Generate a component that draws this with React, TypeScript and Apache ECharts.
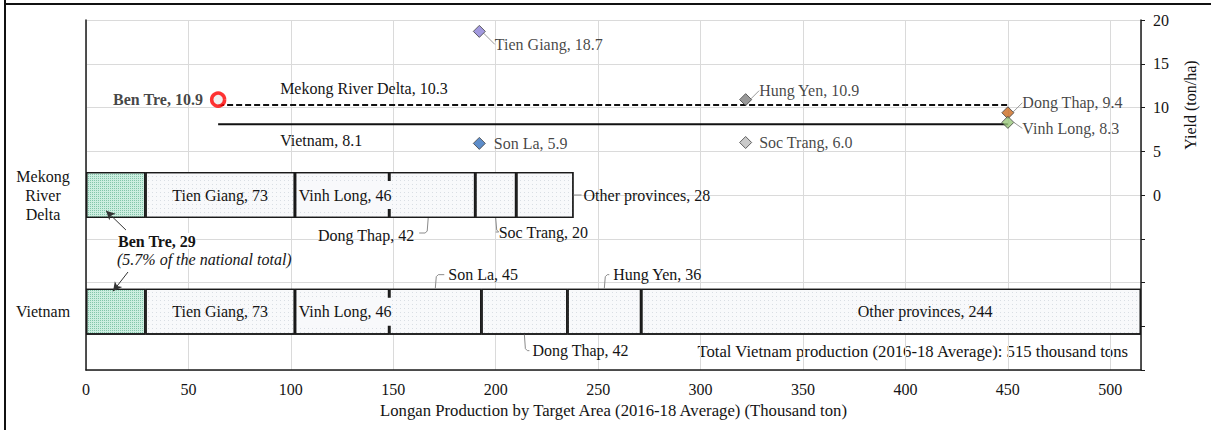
import React, { useEffect, useRef } from "react";
import * as echarts from "echarts";

// ---------- data ----------
const barCategories = ["Vietnam", "Mekong River Delta", ""];
const barCategoryLabels = ["Vietnam", "Mekong\nRiver\nDelta", ""];

const mekongProvinces = ["Ben Tre", "Tien Giang", "Vinh Long", "Dong Thap", "Soc Trang", "Other provinces"];
const mekongProduction = [29, 73, 46, 42, 20, 28];

const vietnamProvinces = ["Ben Tre", "Tien Giang", "Vinh Long", "Son La", "Dong Thap", "Hung Yen", "Other provinces"];
const vietnamProduction = [29, 73, 46, 45, 42, 36, 244];
const vietnamTotal = 515;

const yieldProvinces = ["Tien Giang", "Hung Yen", "Dong Thap", "Vinh Long", "Son La", "Soc Trang"];
const yieldPlotX = [192, 322, 450, 450, 192, 322];
const yieldValues = [18.7, 10.9, 9.4, 8.3, 5.9, 6.0];

const benTreName = "Ben Tre";
const benTreYield = 10.9;
const benTreX = 64.5;

const mekongAvgLabel = "Mekong River Delta";
const mekongAvgYield = 10.3;
const vietnamAvgLabel = "Vietnam";
const vietnamAvgYield = 8.1;
const avgLineX = [64.5, 450];

const xTickMax = 515;
const xTickStep = 50;
const yieldMin = -20;
const yieldMax = 20;
const yieldStep = 5;

// annotation arrow end points (x in thousand ton, y in yield units)
const arrowMekong = [[19.5, -4.0], [9.8, -1.8]];
const arrowVietnam = [[20.5, -8.8], [13.2, -11.0]];

// ---------- styles ----------
const FONT = "'Liberation Serif', 'Times New Roman', serif";
const FS = 16;
const FS_WIDE = 16.7;
const TXT = "#141414";
const BAR_W = 46;
const LEADER = "#8a8a8a";

const yieldColors: Record<string, string> = {
  "Tien Giang": "#8b7fd6",
  "Hung Yen": "#808080",
  "Dong Thap": "#cc6a1f",
  "Vinh Long": "#98c77a",
  "Son La": "#3570bd",
  "Soc Trang": "#bdbdbd",
};

const yieldLabelShift: Record<string, { dx: number; dy: number; line: boolean }> = {
  "Tien Giang": { dx: 9, dy: 13, line: true },
  "Hung Yen": { dx: 7, dy: -9, line: true },
  "Dong Thap": { dx: 8, dy: -10, line: true },
  "Vinh Long": { dx: 8, dy: 6, line: true },
  "Son La": { dx: 8, dy: 0, line: false },
  "Soc Trang": { dx: 7, dy: 0, line: false },
};

type Placement = { mode: string; dx?: number; dy?: number; mask?: boolean };
const barLabelPlacement: Record<string, Placement> = {
  "Vietnam|Tien Giang": { mode: "inside" },
  "Vietnam|Vinh Long": { mode: "inside", dx: 3, mask: true },
  "Vietnam|Son La": { mode: "above", dx: 13, dy: -14 },
  "Vietnam|Dong Thap": { mode: "below", dx: 8, dy: 16 },
  "Vietnam|Hung Yen": { mode: "above", dx: 9, dy: -14 },
  "Vietnam|Other provinces": { mode: "inside", dx: 34 },
  "Mekong River Delta|Tien Giang": { mode: "inside" },
  "Mekong River Delta|Vinh Long": { mode: "inside", dx: 3, mask: true },
  "Mekong River Delta|Dong Thap": { mode: "belowLeft", dx: -18, dy: 17 },
  "Mekong River Delta|Soc Trang": { mode: "below", dx: 3, dy: 14 },
  "Mekong River Delta|Other provinces": { mode: "right", dx: 10 },
};

const lightFill = "#f8f9fb";
const greenFill = "#cdeee1";

function provinceOf(dataIndex: number, seg: number): string | null {
  const cat = barCategories[dataIndex];
  if (cat === "Vietnam") return vietnamProvinces[seg] ?? null;
  if (cat === "Mekong River Delta") return mekongProvinces[seg] ?? null;
  return null;
}

function valuesOf(cat: string): number[] {
  return cat === "Vietnam" ? vietnamProduction : cat === "Mekong River Delta" ? mekongProduction : [];
}

export default function App() {
  const ref = useRef<HTMLDivElement>(null);

  useEffect(() => {
    if (!ref.current) return;
    const chart = echarts.init(ref.current, undefined, { renderer: "svg" });

    const nSeg = Math.max(mekongProduction.length, vietnamProduction.length);
    const barSeries: any[] = [];
    for (let s = 0; s < nSeg; s++) {
      const isBenTre = s === 0;
      const data = barCategories.map((cat, di) => {
        const prov = provinceOf(di, s);
        if (!prov) return "-";
        const value = valuesOf(cat)[s];
        const pl = barLabelPlacement[`${cat}|${prov}`];
        return {
          name: prov,
          value,
          label: pl
            ? {
                show: true,
                formatter: `${prov}, ${value}`,
                backgroundColor: pl.mask ? lightFill : "transparent",
                padding: pl.mask ? [6, 0] : 0,
              }
            : { show: false },
        };
      });
      barSeries.push({
        type: "bar",
        name: "seg" + s,
        stack: "production",
        xAxisIndex: 0,
        yAxisIndex: 0,
        barWidth: BAR_W,
        z: 2,
        data,
        itemStyle: {
          color: isBenTre ? greenFill : lightFill,
          borderColor: "#1a1a1a",
          borderWidth: 1.3,
          decal: isBenTre
            ? { symbol: "rect", symbolSize: 1, color: "rgba(70,165,125,0.55)", dashArrayX: [1, 1], dashArrayY: [1, 1] }
            : { symbol: "rect", symbolSize: 1, color: "rgba(160,170,185,0.35)", dashArrayX: [1, 3], dashArrayY: [1, 3] },
        },
        label: {
          show: false,
          position: "inside",
          fontFamily: FONT,
          fontSize: FS,
          color: TXT,
        },
        labelLayout: (p: any) => {
          const prov = provinceOf(p.dataIndex, s);
          if (!prov) return {};
          const pl = barLabelPlacement[`${barCategories[p.dataIndex]}|${prov}`];
          if (!pl) return {};
          const r = p.rect;
          const cx = r.x + r.width / 2;
          const cy = r.y + r.height / 2;
          const dx = pl.dx || 0;
          const dy = pl.dy || 0;
          const bottom = r.y + r.height;
          switch (pl.mode) {
            case "above":
              return { x: cx + dx, y: r.y + dy, align: "left", verticalAlign: "middle" };
            case "below":
              return { x: cx + dx, y: bottom + dy, align: "left", verticalAlign: "middle" };
            case "belowLeft":
              return { x: cx + dx, y: bottom + dy, align: "right", verticalAlign: "middle" };
            case "right":
              return { x: r.x + r.width + dx, y: cy, align: "left", verticalAlign: "middle" };
            default:
              return { dx };
          }
        },
      });
    }

    const scatterData = yieldProvinces.map((p, i) => ({
      name: p,
      value: [yieldPlotX[i], yieldValues[i]],
      itemStyle: { color: yieldColors[p] },
      labelLine: { show: yieldLabelShift[p].line },
    }));

    const baseGraphics: any[] = [
      {
        type: "line",
        silent: true,
        shape: { x1: 5, y1: 0, x2: 5, y2: 430 },
        style: { stroke: "#111", lineWidth: 2 },
      },
      {
        type: "line",
        silent: true,
        shape: { x1: 5, y1: 4, x2: 1211, y2: 4 },
        style: { stroke: "#111", lineWidth: 2 },
      },
      {
        type: "text",
        silent: true,
        z: 10,
        x: 118,
        y: 241,
        style: {
          text: `${mekongProvinces[0]}, ${mekongProduction[0]}`,
          font: `bold ${FS}px ${FONT}`,
          fill: TXT,
          align: "left",
          verticalAlign: "middle",
          backgroundColor: "#fff",
        },
      },
      {
        type: "text",
        silent: true,
        z: 10,
        x: 117,
        y: 259,
        style: {
          text: "(5.7% of the national total)",
          font: `italic ${FS}px ${FONT}`,
          fill: TXT,
          align: "left",
          verticalAlign: "middle",
        },
      },
      {
        type: "text",
        silent: true,
        x: 1128,
        y: 351,
        style: {
          text: `Total Vietnam production (2016-18 Average): ${vietnamTotal} thousand tons`,
          font: `${FS_WIDE}px ${FONT}`,
          fill: TXT,
          align: "right",
          verticalAlign: "middle",
        },
      },
      {
        type: "text",
        silent: true,
        x: 1190,
        y: 105,
        rotation: Math.PI / 2,
        style: {
          text: "Yield (ton/ha)",
          font: `${FS}px ${FONT}`,
          fill: TXT,
          align: "center",
          verticalAlign: "middle",
        },
      },
    ];

    const option: any = {
      animation: false,
      textStyle: { fontFamily: FONT },
      grid: { left: 86, right: 70, top: 20, bottom: 60, containLabel: false },
      xAxis: [
        {
          type: "value",
          min: 0,
          max: xTickMax,
          interval: xTickStep,
          axisLine: { show: true, onZero: false, lineStyle: { color: "#1a1a1a", width: 1.5 } },
          axisTick: { show: false },
          axisLabel: {
            margin: 11,
            fontFamily: FONT,
            fontSize: FS,
            color: TXT,
            formatter: (v: number) => (v % xTickStep === 0 ? String(v) : ""),
          },
          splitLine: { show: true, lineStyle: { color: "#dadada", width: 1 } },
          name: "Longan Production by Target Area (2016-18 Average) (Thousand ton)",
          nameLocation: "middle",
          nameGap: 32,
          nameTextStyle: { fontFamily: FONT, fontSize: FS_WIDE, color: TXT },
        },
      ],
      yAxis: [
        {
          type: "category",
          data: barCategories,
          position: "left",
          axisLine: { show: true, onZero: false, lineStyle: { color: "#1a1a1a", width: 1.5 } },
          axisTick: { show: false },
          splitLine: { show: false },
          axisLabel: {
            align: "center",
            margin: 43,
            fontFamily: FONT,
            fontSize: FS,
            lineHeight: 19,
            color: TXT,
            formatter: (v: string) => barCategoryLabels[barCategories.indexOf(v)] ?? v,
          },
        },
        {
          type: "value",
          position: "right",
          min: yieldMin,
          max: yieldMax,
          interval: yieldStep,
          axisLine: { show: true, onZero: false, lineStyle: { color: "#1a1a1a", width: 1.5 } },
          axisTick: { show: true, inside: false, length: 4, lineStyle: { color: "#1a1a1a" } },
          axisLabel: {
            margin: 12,
            fontFamily: FONT,
            fontSize: FS,
            color: TXT,
            formatter: (v: number) => (v >= 0 ? String(v) : ""),
          },
          splitLine: { show: true, lineStyle: { color: "#dadada", width: 1 } },
        },
      ],
      series: [
        ...barSeries,
        {
          type: "line",
          name: mekongAvgLabel,
          xAxisIndex: 0,
          yAxisIndex: 1,
          z: 4,
          symbol: "circle",
          symbolSize: 0,
          lineStyle: { color: "#111", width: 2, type: [6, 3] },
          itemStyle: { color: "#111" },
          data: [
            {
              value: [avgLineX[0], mekongAvgYield],
              label: {
                show: true,
                position: "right",
                distance: 0,
                offset: [62, -16],
                formatter: `${mekongAvgLabel}, ${mekongAvgYield}`,
                fontFamily: FONT,
                fontSize: FS,
                color: TXT,
              },
            },
            { value: [avgLineX[1], mekongAvgYield] },
          ],
        },
        {
          type: "line",
          name: vietnamAvgLabel,
          xAxisIndex: 0,
          yAxisIndex: 1,
          z: 4,
          symbol: "circle",
          symbolSize: 0,
          lineStyle: { color: "#111", width: 2 },
          itemStyle: { color: "#111" },
          data: [
            {
              value: [avgLineX[0], vietnamAvgYield],
              label: {
                show: true,
                position: "right",
                distance: 0,
                offset: [62, 16],
                formatter: `${vietnamAvgLabel}, ${vietnamAvgYield}`,
                fontFamily: FONT,
                fontSize: FS,
                color: TXT,
              },
            },
            { value: [avgLineX[1], vietnamAvgYield] },
          ],
        },
        {
          type: "scatter",
          name: "yield",
          xAxisIndex: 0,
          yAxisIndex: 1,
          z: 5,
          symbol: "diamond",
          symbolSize: 12,
          itemStyle: { borderColor: "#404040", borderWidth: 1 },
          data: scatterData,
          label: {
            show: true,
            position: "right",
            distance: 0,
            fontFamily: FONT,
            fontSize: FS,
            color: TXT,
            formatter: (p: any) => `${p.name}, ${Number(p.value[1]).toFixed(1)}`,
          },
          labelLine: { show: false, lineStyle: { color: "#999", width: 1 } },
          labelLayout: (p: any) => {
            const name = yieldProvinces[p.dataIndex];
            const sh = yieldLabelShift[name];
            return { dx: sh.dx, dy: sh.dy };
          },
        },
        {
          type: "scatter",
          name: benTreName,
          xAxisIndex: 0,
          yAxisIndex: 1,
          z: 6,
          symbol: "circle",
          symbolSize: 13,
          itemStyle: { color: "#ececec", borderColor: "#ff0000", borderWidth: 3.5 },
          data: [{ name: benTreName, value: [benTreX, benTreYield] }],
          label: {
            show: true,
            position: "left",
            distance: 7,
            fontFamily: FONT,
            fontSize: FS,
            fontWeight: "bold",
            color: TXT,
            formatter: `${benTreName}, ${benTreYield}`,
          },
          markLine: {
            silent: true,
            symbol: ["none", "arrow"],
            symbolSize: [7, 9],
            label: { show: false },
            lineStyle: { color: "#333", width: 1, type: "solid" },
            data: [
              [{ coord: arrowMekong[0] }, { coord: arrowMekong[1] }],
              [{ coord: arrowVietnam[0] }, { coord: arrowVietnam[1] }],
            ],
          },
        },
      ],
      graphic: baseGraphics,
    };

    chart.setOption(option);

    // leader hooks for the outside bar labels, positioned through the axes
    const leaders: any[] = [];
    barCategories.forEach((cat) => {
      const vals = valuesOf(cat);
      let cum = 0;
      vals.forEach((v, s) => {
        const prov = cat === "Vietnam" ? vietnamProvinces[s] : mekongProvinces[s];
        const start = cum;
        cum += v;
        const pl = barLabelPlacement[`${cat}|${prov}`];
        if (!pl || pl.mode === "inside") return;
        const p0 = chart.convertToPixel({ xAxisIndex: 0, yAxisIndex: 0 } as any, [start, cat]) as number[];
        const p1 = chart.convertToPixel({ xAxisIndex: 0, yAxisIndex: 0 } as any, [cum, cat]) as number[];
        if (!p0 || !p1) return;
        const cx = (p0[0] + p1[0]) / 2;
        const cy = p0[1];
        const top = cy - BAR_W / 2;
        const bottom = cy + BAR_W / 2;
        const dx = pl.dx || 0;
        const dy = pl.dy || 0;
        let pts: number[][] = [];
        if (pl.mode === "above") {
          const ly = top + dy;
          pts = [[cx, top], [cx + 1, ly + 2], [cx + 3, ly], [cx + dx - 4, ly]];
        } else if (pl.mode === "below") {
          const ly = bottom + dy;
          pts = [[cx, bottom], [cx + 1, ly - 2], [cx + 3, ly], [cx + dx - 3, ly]];
        } else if (pl.mode === "belowLeft") {
          const ly = bottom + dy;
          pts = [[cx - 4, bottom], [cx - 5, ly - 4], [cx - 7, ly - 2], [cx + dx + 5, ly - 2]];
        } else if (pl.mode === "right") {
          pts = [[p1[0], cy], [p1[0] + dx - 2, cy]];
        }
        leaders.push({
          type: "polyline",
          silent: true,
          z: 3,
          shape: { points: pts },
          style: { stroke: LEADER, lineWidth: 1, fill: "none" },
        });
      });
    });
    chart.setOption({ graphic: [...baseGraphics, ...leaders] });

    return () => chart.dispose();
  }, []);

  return (
    <div
      ref={ref}
      style={{ position: "fixed", left: 0, top: 0, width: 1211, height: 430, background: "#fff" }}
    />
  );
}
